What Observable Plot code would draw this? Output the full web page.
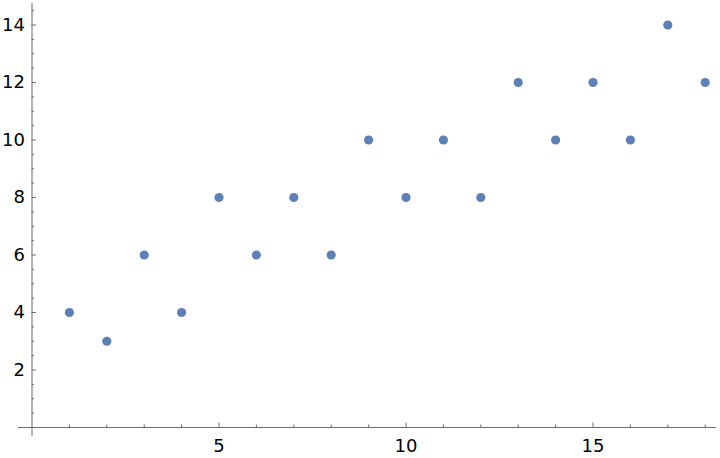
<!DOCTYPE html>
<html>
<head>
<meta charset="utf-8">
<script src="https://cdn.jsdelivr.net/npm/d3@7"></script>
<script src="https://cdn.jsdelivr.net/npm/@observablehq/plot@0.6"></script>
<style>
  html, body { margin: 0; padding: 0; background: #fff; }
</style>
</head>
<body>
<div id="chart"></div>
<script>
const xs = [1, 2, 3, 4, 5, 6, 7, 8, 9, 10, 11, 12, 13, 14, 15, 16, 17, 18];
const ys = [4, 3, 6, 4, 8, 6, 8, 6, 10, 8, 10, 8, 12, 10, 12, 10, 14, 12];
const xMajor = [5, 10, 15];
const xMinor = [1, 2, 3, 4, 6, 7, 8, 9, 11, 12, 13, 14, 16, 17, 18];
const yMajor = [2, 4, 6, 8, 10, 12, 14];
const yMinor = [0.5, 1, 1.5, 2.5, 3, 3.5, 4.5, 5, 5.5, 6.5, 7, 7.5, 8.5, 9, 9.5, 10.5, 11, 11.5, 12.5, 13, 13.5, 14.5];

const points = xs.map((x, i) => ({x, y: ys[i]}));

// layout (pixels)
const X0 = 31.5, XU = 37.4, Y0 = 427, YU = 28.75;
const px = v => v / XU, py = v => v / YU;
const axisColor = "#6b6b6b";
const font = "DejaVu Sans, sans-serif";

const chart = Plot.plot({
  width: 720,
  height: 458,
  style: {background: "#fff", fontFamily: font},
  x: {domain: [0, 18], range: [X0, X0 + 18 * XU], axis: null},
  y: {domain: [0, 14], range: [Y0, Y0 - 14 * YU], axis: null},
  marks: [
    Plot.ruleY([0], {x1: px(18 - X0), x2: px(716 - X0), stroke: axisColor, strokeWidth: 1}),
    Plot.ruleX([0], {y1: py(Y0 - 436), y2: py(Y0 - 3), stroke: axisColor, strokeWidth: 1}),
    Plot.ruleX(xMajor, {x: d => d, y1: 0, y2: py(4.5), stroke: axisColor}),
    Plot.ruleX(xMinor, {x: d => d, y1: 0, y2: py(2.5), stroke: axisColor}),
    Plot.ruleY(yMajor, {y: d => d, x1: 0, x2: px(4.5), stroke: axisColor}),
    Plot.ruleY(yMinor, {y: d => d, x1: 0, x2: px(2.5), stroke: axisColor}),
    Plot.text(xMajor, {x: d => d, y: 0, text: d => String(d), dy: 19, fontSize: 18, fill: "#000", textAnchor: "middle"}),
    Plot.text(yMajor, {x: 0, y: d => d, text: d => String(d), dx: -7, fontSize: 18, fill: "#000", textAnchor: "end"}),
    Plot.dot(points, {x: "x", y: "y", r: 4.6, fill: "#5e81b5", stroke: null})
  ]
});
document.getElementById("chart").appendChild(chart);
</script>
</body>
</html>
